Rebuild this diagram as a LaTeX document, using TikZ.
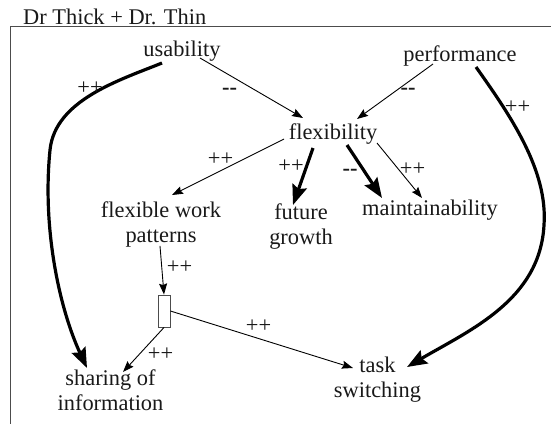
\documentclass[tikz,border=0pt]{standalone}
\usepackage{fontspec}
\setmainfont{Liberation Serif}
\usetikzlibrary{arrows.meta}
\begin{document}
\begin{tikzpicture}[x=1pt,y=-1pt,
  lbl/.style={font=\fontsize{22.4}{25}\selectfont, inner sep=0pt, text=black!90},
  concept/.style={lbl, align=center, anchor=base},
  thinlink/.style={line width=0.9pt, -{Stealth[length=11pt,width=8pt,inset=1.5pt]}},
  thicklink/.style={line width=3.2pt, -{Stealth[length=20pt,width=15pt,inset=3pt]}},
  sign/.style={lbl},
  minus/.style={lbl, font=\fontsize{22.4}{25}\selectfont\bfseries},
  frame/.style={draw=black!70, line width=0.9pt},
]
\useasboundingbox (0,0) rectangle (551,424);

% heading and open frame
\node[lbl, anchor=base west] (title) at (23,24) {Dr Thick + Dr. Thin};
\draw[frame] (551,26.5) -- (10,26.5) -- (10,424);

% concepts (base = baseline of the last line)
\node[concept] (usab)  at (182,56)    {usability};
\node[concept] (perf)  at (460,61)    {performance};
\node[concept] (flex)  at (333,139)   {flexibility};
\node[concept] (fwp)   at (161,242)   {flexible work\\patterns};
\node[concept] (fut)   at (301,244)   {future\\growth};
\node[concept] (maint) at (430,215)   {maintainability};
\node[concept] (share) at (110.5,410) {sharing of\\information};
\node[concept] (task)  at (377.5,397) {task\\switching};
\node[frame, minimum width=12pt, minimum height=32pt, inner sep=0pt] (junc) at (164,311) {};

% links
\draw[thinlink] ([shift={(18,2)}]usab.base) -- ([shift={(-30,-21)}]flex.base);
\draw[thinlink] ([shift={(-27,3)}]perf.base) -- ([shift={(24,-20)}]flex.base);
\draw[thicklink] ([shift={(-20,7)}]usab.base)
  .. controls (120,80) and (55,100) .. (50,150)
  .. controls (42,230) and (60,310) .. ([shift={(-23.5,-42)}]share.base);
\draw[thicklink] ([shift={(16,6)}]perf.base)
  .. controls (510,115) and (548,170) .. (544,225)
  .. controls (540,300) and (470,330) .. ([shift={(29.5,-30)}]task.base);
\draw[thinlink] ([shift={(-49,0)}]flex.base) -- ([shift={(11,-47)}]fwp.base);
\draw[thicklink] ([shift={(-20,9)}]flex.base) -- ([shift={(-8,-39)}]fut.base);
\draw[thicklink] ([shift={(14,6)}]flex.base) -- ([shift={(-48,-17)}]maint.base);
\draw[thinlink] ([shift={(44,4)}]flex.base) -- ([shift={(-8,-17)}]maint.base);
\draw[thinlink] ([shift={(-1,-1)}]fwp.south) -- (junc.north);
\draw[thinlink] (junc.south) -- ([shift={(12.5,-38)}]share.base);
\draw[thinlink] (junc.east) -- ([shift={(-24.5,-29)}]task.base);

% polarity signs
\node[sign]  (s1)  at (90,88)     {++};
\node[minus] (s2)  at (229.5,91)  {-{}-};
\node[minus] (s3)  at (408,91)    {-{}-};
\node[sign]  (s4)  at (517.5,107) {++};
\node[sign]  (s5)  at (220.5,159) {++};
\node[sign]  (s6)  at (291,166)   {++};
\node[minus] (s7)  at (350,172)   {-{}-};
\node[sign]  (s8)  at (412.5,169) {++};
\node[sign]  (s9)  at (179.5,267) {++};
\node[sign]  (s10) at (160.5,354) {++};
\node[sign]  (s11) at (258.5,326) {++};
\end{tikzpicture}
\end{document}
